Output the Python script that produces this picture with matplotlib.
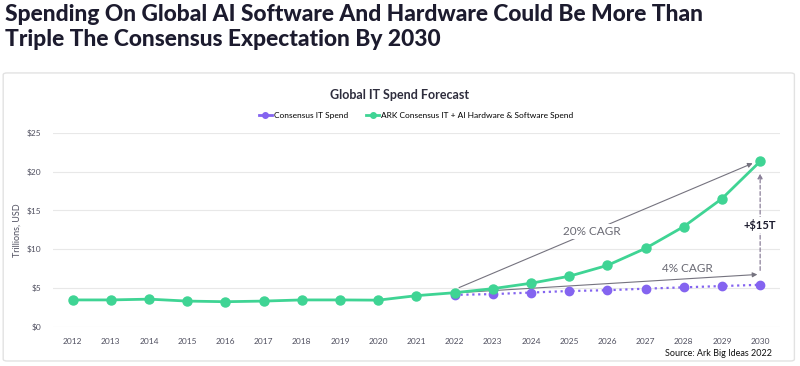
import numpy as np
import matplotlib
matplotlib.use("Agg")
import matplotlib.pyplot as plt
from matplotlib.patches import FancyBboxPatch
from matplotlib.lines import Line2D

years = list(range(2012, 2031))
ark_spend = [3.45, 3.45, 3.55, 3.3, 3.22, 3.3, 3.45, 3.45, 3.42, 4.0, 4.38,
             4.9, 5.6, 6.5, 7.9, 10.1, 12.9, 16.5, 21.3]
cons_years = list(range(2022, 2031))
cons_spend = [4.1, 4.2, 4.4, 4.6, 4.7, 4.9, 5.07, 5.24, 5.4]
y_ticks = [0, 5, 10, 15, 20, 25]
y_ticklabels = ["$0", "$5", "$10", "$15", "$20", "$25"]

GREEN = "#3fd494"
PURPLE = "#8464f0"
NAVY = "#1c1b2e"

plt.rcParams["font.family"] = ["Lato", "DejaVu Sans"]

fig = plt.figure(figsize=(8, 3.66), dpi=100)

# main title
fig.text(0.006, 0.988, "Spending On Global AI Software And Hardware Could Be More Than\n"
         "Triple The Consensus Expectation By 2030",
         ha="left", va="top", fontsize=16.4, fontweight="black", color=NAVY,
         linespacing=1.2)

# card frame (drawn behind the axes)
card = FancyBboxPatch((0.004, 0.0137), 0.989, 0.787, transform=fig.transFigure,
                      boxstyle="round,pad=0,rounding_size=0.005",
                      facecolor="white", edgecolor="#e2e2e2", lw=1.0,
                      zorder=-1)
fig.patches.append(card)

fig.text(0.5, 0.74, "Global IT Spend Forecast", ha="center", va="center",
         fontsize=9, fontweight="bold", color="#2e2d3d")

ax = fig.add_axes([0.066, 0.1074, 0.909, 0.530])
ax.set_zorder(2)
ax.patch.set_alpha(0)
ax.plot(cons_years, cons_spend, color=PURPLE, ls=":", lw=1.6, marker="o",
        markersize=6, zorder=3)
ax.plot(years, ark_spend, color=GREEN, lw=2.0, marker="o", markersize=6.5,
        zorder=4)

ax.set_xlim(2011.48, 2030.52)
ax.set_ylim(0, 25)
ax.set_xticks(years)
ax.set_xticklabels([str(y) for y in years])
ax.set_yticks(y_ticks)
ax.set_yticklabels(y_ticklabels)
ax.tick_params(length=0, labelsize=6, labelcolor="#505060", pad=8)
ax.grid(axis="y", color="#e8e8e8", lw=0.8)
ax.set_axisbelow(True)
for s in ax.spines.values():
    s.set_visible(False)
ax.set_ylabel("Trillions, USD", fontsize=6.5, color="#505060", labelpad=4)

# legend
handles = [Line2D([], [], color=PURPLE, lw=2, marker="o", markersize=4),
           Line2D([], [], color=GREEN, lw=2, marker="o", markersize=4)]
fig.legend(handles, ["Consensus IT Spend",
                     "ARK Consensus IT + AI Hardware & Software Spend"],
           loc="center", bbox_to_anchor=(0.52, 0.685), ncol=2, frameon=False,
           fontsize=6, handlelength=1.6, handletextpad=0.2, columnspacing=2.2)

# annotations
arrow = dict(arrowstyle="-|>", color="#75737f", lw=0.8, mutation_scale=7)
ax.annotate("", xy=(2029.87, 21.2), xytext=(2022.05, 4.9), arrowprops=arrow,
            zorder=2)
ax.annotate("", xy=(2030.0, 6.75), xytext=(2022.0, 4.35), arrowprops=arrow,
            zorder=2)
ax.text(2025.6, 12.3, "20% CAGR", ha="center", va="center", fontsize=8.5,
        color="#6a6a74", bbox=dict(fc="white", ec="none", pad=1.5), zorder=3)
ax.text(2028.1, 7.45, "4% CAGR", ha="center", va="center", fontsize=8.5,
        color="#6a6a74", zorder=3)
ax.annotate("", xy=(2030.0, 20.1), xytext=(2030.0, 6.9),
            arrowprops=dict(arrowstyle="-|>", color="#8a7f98", lw=0.9,
                            ls=(0, (3, 2)), mutation_scale=7), zorder=2)
ax.text(2030.0, 13.1, "+$15T", ha="center", va="center", fontsize=8,
        fontweight="bold", color=NAVY,
        bbox=dict(fc="white", ec="none", pad=1.5), zorder=3)

fig.text(0.965, 0.035, "Source: Ark Big Ideas 2022", ha="right", va="center",
         fontsize=6.5, color="#111111")

fig.savefig("out.png", dpi=100)
